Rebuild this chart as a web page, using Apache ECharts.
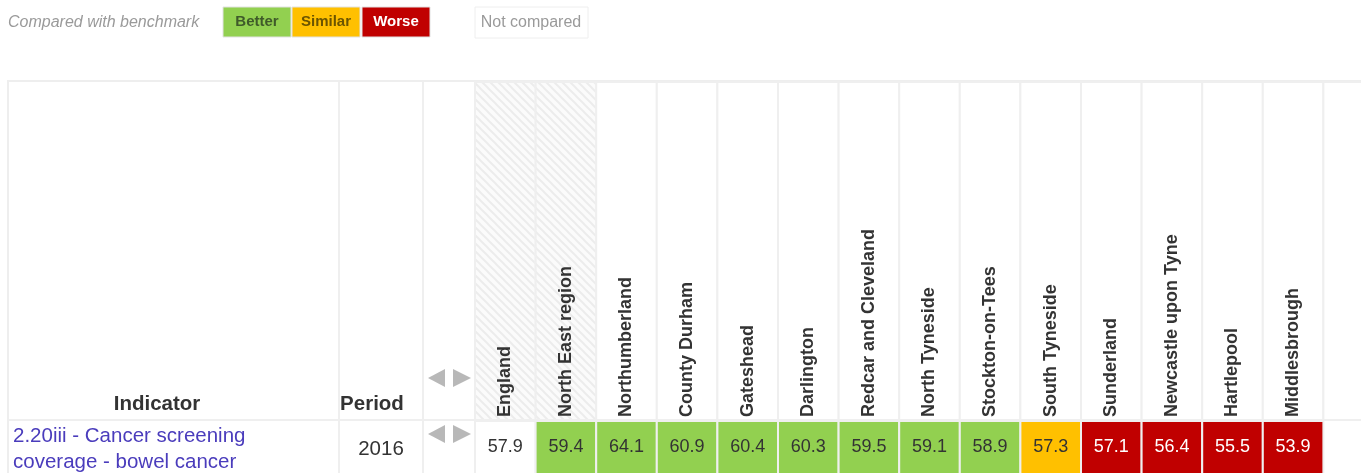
<!DOCTYPE html>
<html>
<head>
<meta charset="utf-8">
<title>2.20iii - Cancer screening coverage - bowel cancer</title>
<script src="https://cdn.jsdelivr.net/npm/echarts@6/dist/echarts.min.js"></script>
<style>
    html, body { margin: 0; padding: 0; background: #fff; }
    #chart { width: 1361px; height: 473px; }
</style>
</head>
<body>
<div id="chart"></div>
<script>
// 表格数据
var areas = ['England', 'North East region', 'Northumberland', 'County Durham', 'Gateshead', 'Darlington',
    'Redcar and Cleveland', 'North Tyneside', 'Stockton-on-Tees', 'South Tyneside', 'Sunderland',
    'Newcastle upon Tyne', 'Hartlepool', 'Middlesbrough', ''];
var values = [57.9, 59.4, 64.1, 60.9, 60.4, 60.3, 59.5, 59.1, 58.9, 57.3, 57.1, 56.4, 55.5, 53.9];
var comparison = ['none', 'better', 'better', 'better', 'better', 'better', 'better', 'better', 'better',
    'similar', 'worse', 'worse', 'worse', 'worse'];
var comparators = ['England', 'North East region'];
var indicatorLines = ['2.20iii - Cancer screening', 'coverage - bowel cancer'];
var period = '2016';
var legendTitle = 'Compared with benchmark';
var legendLabels = ['Better', 'Similar', 'Worse'];
var legendKeys = ['better', 'similar', 'worse'];
var notComparedLabel = 'Not compared';

var FONT = '"Liberation Sans", Arial, sans-serif';
var fills = { better: '#92D050', similar: '#FFC000', worse: '#C00000', none: '#ffffff' };
var textColors = { better: '#333', similar: '#333', worse: '#fff', none: '#333' };

// 斜线底纹
var hatch = document.createElement('canvas');
hatch.width = 8;
hatch.height = 8;
var hctx = hatch.getContext('2d');
hctx.fillStyle = '#fbfbfb';
hctx.fillRect(0, 0, 8, 8);
hctx.strokeStyle = '#ececec';
hctx.lineWidth = 2;
hctx.beginPath();
hctx.moveTo(-1, -1); hctx.lineTo(9, 9);
hctx.moveTo(-1, 7); hctx.lineTo(1, 9);
hctx.moveTo(7, -1); hctx.lineTo(9, 1);
hctx.stroke();

var myChart = echarts.init(document.getElementById('chart'));

function renderHeader(params, api) {
    var i = api.value(0);
    var c = api.coord([i, 0]);
    var s = api.size([1, 1]);
    var isComp = comparators.indexOf(areas[i]) >= 0;
    return {
        type: 'rect',
        shape: { x: c[0] - s[0] / 2, y: c[1] - s[1] / 2, width: s[0], height: s[1] },
        style: { fill: isComp ? { image: hatch, repeat: 'repeat' } : '#fff', stroke: '#efefef', lineWidth: 2 }
    };
}

function renderCell(params, api) {
    var i = api.value(0);
    var c = api.coord([i, 0]);
    var s = api.size([1, 1]);
    var key = comparison[i];
    return {
        type: 'group',
        children: [{
            type: 'rect',
            shape: { x: c[0] - s[0] / 2, y: c[1] - s[1] / 2, width: s[0], height: s[1] },
            style: { fill: fills[key], stroke: '#efefef', lineWidth: 2 }
        }, {
            type: 'text',
            style: {
                x: c[0], y: c[1] - 1, text: api.value(2).toFixed(1),
                fill: textColors[key], font: '18px ' + FONT, align: 'center', verticalAlign: 'middle'
            }
        }]
    };
}

function arrows(y) {
    return [{
        type: 'polygon', shape: { points: [[428, y + 9], [445, y], [445, y + 18]] }, style: { fill: '#b8b8b8' }
    }, {
        type: 'polygon', shape: { points: [[453, y], [471, y + 9], [453, y + 18]] }, style: { fill: '#b8b8b8' }
    }];
}

var graphics = [
    { type: 'text', left: 8, top: 15, style: { text: legendTitle, fill: '#9a9a9a', font: 'italic 16px ' + FONT } },
    {
        type: 'rect', shape: { x: 475, y: 7, width: 113, height: 31 },
        style: { fill: '#fff', stroke: '#eeeeee', lineWidth: 1 }
    },
    {
        type: 'text', style: { x: 531, y: 23, text: notComparedLabel, fill: '#9a9a9a', font: '16px ' + FONT, align: 'center', verticalAlign: 'middle' }
    },
    // 表格边框
    { type: 'rect', shape: { x: 7, y: 80, width: 1354, height: 2 }, style: { fill: '#eeeeee' } },
    { type: 'rect', shape: { x: 7, y: 80, width: 2, height: 393 }, style: { fill: '#eeeeee' } },
    { type: 'rect', shape: { x: 338, y: 82, width: 2, height: 391 }, style: { fill: '#efefef' } },
    { type: 'rect', shape: { x: 422, y: 82, width: 2, height: 391 }, style: { fill: '#efefef' } },
    { type: 'rect', shape: { x: 9, y: 419, width: 466, height: 2 }, style: { fill: '#efefef' } },
    {
        type: 'text', style: { x: 157, y: 404, text: 'Indicator', fill: '#333', font: 'bold 20.5px ' + FONT, align: 'center', verticalAlign: 'middle' }
    },
    {
        type: 'text', style: { x: 372, y: 404, text: 'Period', fill: '#333', font: 'bold 20.5px ' + FONT, align: 'center', verticalAlign: 'middle' }
    },
    {
        type: 'text', style: { x: 13, y: 436, text: indicatorLines[0], fill: '#4a3cbc', font: '20.5px ' + FONT, verticalAlign: 'middle' }
    },
    {
        type: 'text', style: { x: 13, y: 462, text: indicatorLines[1], fill: '#4a3cbc', font: '20.5px ' + FONT, verticalAlign: 'middle' }
    },
    {
        type: 'text', style: { x: 381, y: 449, text: period, fill: '#333', font: '20.5px ' + FONT, align: 'center', verticalAlign: 'middle' }
    }
].concat(arrows(369), arrows(425));

legendLabels.forEach(function (label, i) {
    var xs = [223, 292, 362];
    var key = legendKeys[i];
    graphics.push({
        type: 'rect', shape: { x: xs[i], y: 7, width: 68, height: 30 },
        style: { fill: fills[key], stroke: '#e2e2e2', lineWidth: 1 }
    });
    graphics.push({
        type: 'text',
        style: {
            x: xs[i] + 34, y: 22, text: label, font: 'bold 15px ' + FONT, align: 'center', verticalAlign: 'middle',
            fill: key === 'worse' ? '#fff' : (key === 'better' ? '#3f5a2a' : '#6b5400')
        }
    });
});

myChart.setOption({
    animation: false,
    grid: [
        { left: 475, width: 909, top: 82, height: 338, outerBoundsMode: 'none' },
        { left: 475, width: 909, top: 421, height: 54, outerBoundsMode: 'none' }
    ],
    xAxis: [{
        type: 'category', gridIndex: 0, data: areas,
        axisLine: { show: false }, axisTick: { show: false }, axisLabel: { show: false }
    }, {
        type: 'category', gridIndex: 1, data: areas, position: 'top', z: 10,
        axisLine: { show: false }, axisTick: { show: false },
        axisLabel: {
            interval: 0, rotate: -90, margin: 4,
            color: '#333', fontWeight: 'bold', fontSize: 18, fontFamily: FONT
        }
    }],
    yAxis: [{
        type: 'category', gridIndex: 0, data: ['header'], show: false
    }, {
        type: 'category', gridIndex: 1, data: ['row'], show: false
    }],
    series: [{
        type: 'custom', xAxisIndex: 0, yAxisIndex: 0, z: 1, silent: true,
        renderItem: renderHeader,
        data: areas.map(function (a, i) { return [i, 0]; })
    }, {
        type: 'custom', xAxisIndex: 1, yAxisIndex: 1, z: 2,
        renderItem: renderCell,
        encode: { x: 0, y: 1 },
        data: values.map(function (v, i) { return [i, 0, v]; })
    }],
    graphic: graphics
});
</script>
</body>
</html>
